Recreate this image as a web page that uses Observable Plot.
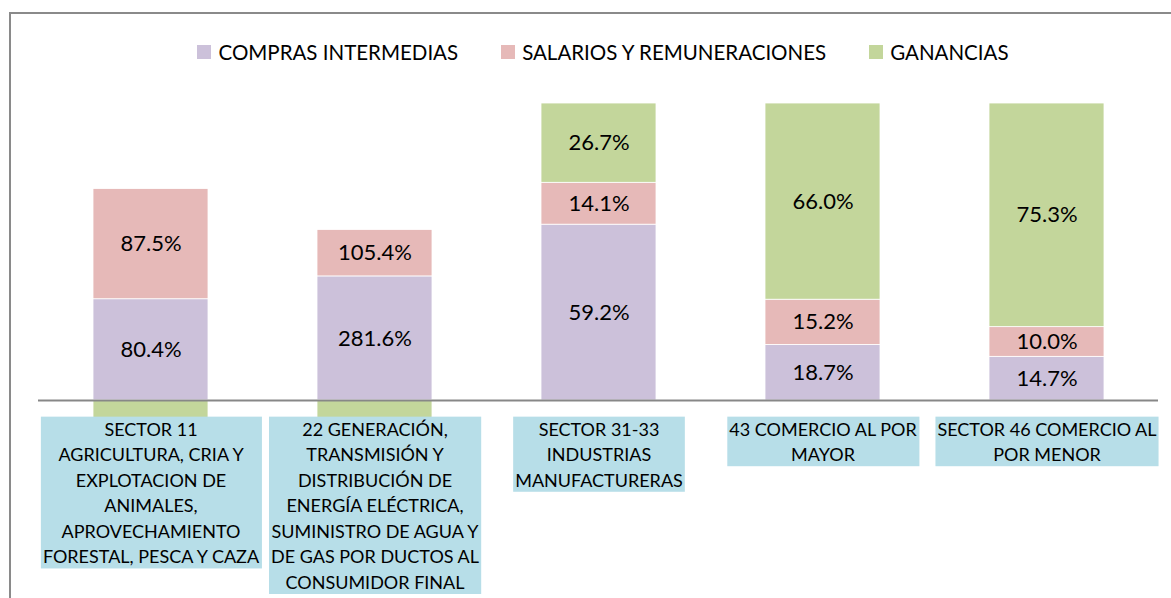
<!DOCTYPE html>
<html><head><meta charset="utf-8">
<script src="https://cdn.jsdelivr.net/npm/d3@7"></script>
<script src="https://cdn.jsdelivr.net/npm/@observablehq/plot@0.6"></script>
<style>
body{margin:0;background:#fff;}
#wrap{position:relative;width:1171px;height:598px;overflow:hidden;font-family:Lato,sans-serif;color:#000;}
#frame{position:absolute;left:9px;top:12px;width:1300px;height:700px;border-left:2px solid #8a8a8a;border-top:2px solid #8a8a8a;box-sizing:border-box;}
#chart{position:absolute;left:0;top:0;}
#legend{position:absolute;top:40px;left:0;width:1206px;display:flex;justify-content:center;gap:43px;font-size:20.5px;line-height:24px;}
#legend .item{display:flex;align-items:center;}
#legend .sw{width:14px;height:14px;margin-right:7px;}
</style></head>
<body>
<div id="wrap"><div id="frame"></div><div id="chart"></div><div id="legend"></div></div>
<script>
const categories = [
  "SECTOR 11\nAGRICULTURA, CRIA Y\nEXPLOTACION DE\nANIMALES,\nAPROVECHAMIENTO\nFORESTAL, PESCA Y CAZA",
  "22 GENERACIÓN,\nTRANSMISIÓN Y\nDISTRIBUCIÓN DE\nENERGÍA ELÉCTRICA,\nSUMINISTRO DE AGUA Y\nDE GAS POR DUCTOS AL\nCONSUMIDOR FINAL",
  "SECTOR 31-33\nINDUSTRIAS\nMANUFACTURERAS",
  "43 COMERCIO AL POR\nMAYOR",
  "SECTOR 46 COMERCIO AL\nPOR MENOR"
];
const seriesNames = ["COMPRAS INTERMEDIAS", "SALARIOS Y REMUNERACIONES", "GANANCIAS"];
const compras = [80.4, 281.6, 59.2, 18.7, 14.7];
const salarios = [87.5, 105.4, 14.1, 15.2, 10.0];
const ganancias = [-67.9, -287.0, 26.7, 66.0, 75.3];
const colors = ["#CCC1DA", "#E6B9B8", "#C3D69B"];

// Excel 100% stacked: each value divided by sum of absolute values in its category
const seriesValues = [compras, salarios, ganancias];
const rows = [];
categories.forEach((c, i) => {
  const tot = seriesValues.reduce((s, arr) => s + Math.abs(arr[i]), 0);
  seriesValues.forEach((arr, k) => {
    rows.push({cat: c, series: seriesNames[k], value: arr[i], share: arr[i] / tot});
  });
});

const plot = Plot.plot({
  width: 1171,
  height: 598,
  marginLeft: 38,
  marginRight: 13,
  marginTop: 103,
  marginBottom: 0,
  style: {fontFamily: "Lato, sans-serif", background: "transparent", overflow: "visible"},
  x: {domain: categories, paddingInner: 0.487, paddingOuter: 0.2435, axis: null},
  y: {domain: [-2/3, 1], axis: null},
  color: {domain: seriesNames, range: colors},
  marks: [
    Plot.barY(rows, Plot.stackY({x: "cat", y: "share", fill: "series", stroke: "white", strokeWidth: 0.8})),
    // labels of negative segments are hidden behind the category boxes in the original
    Plot.text(rows, Plot.stackY({x: "cat", y: "share", text: d => d.value < 0 ? "" : d.value.toFixed(1) + "%", fill: "#000", fontSize: 22})),
    Plot.ruleY([0], {stroke: "#878787", strokeWidth: 2}),
    Plot.text(categories, {x: d => d, y: () => 0, text: d => d, lineAnchor: "top", dy: 17, lineHeight: 1.42, fontSize: 18, fill: "#000"})
  ]
});
document.getElementById("chart").appendChild(plot);

// light-blue boxes behind category labels
const groups = plot.querySelectorAll('g[aria-label="text"]');
const g = groups[groups.length - 1];
if (g) {
  Array.from(g.querySelectorAll("text")).forEach(t => {
    const b = t.getBBox();
    const r = document.createElementNS("http://www.w3.org/2000/svg", "rect");
    r.setAttribute("x", b.x - 2);
    r.setAttribute("y", b.y - 1);
    r.setAttribute("width", b.width + 4);
    r.setAttribute("height", b.height + 2);
    r.setAttribute("fill", "#B7DEE8");
    if (t.getAttribute("transform")) r.setAttribute("transform", t.getAttribute("transform"));
    t.parentNode.insertBefore(r, t);
  });
}

// legend
const leg = document.getElementById("legend");
seriesNames.forEach((n, i) => {
  const it = document.createElement("div");
  it.className = "item";
  it.innerHTML = `<span class="sw" style="background:${colors[i]}"></span><span>${n}</span>`;
  leg.appendChild(it);
});
</script>
</body></html>
